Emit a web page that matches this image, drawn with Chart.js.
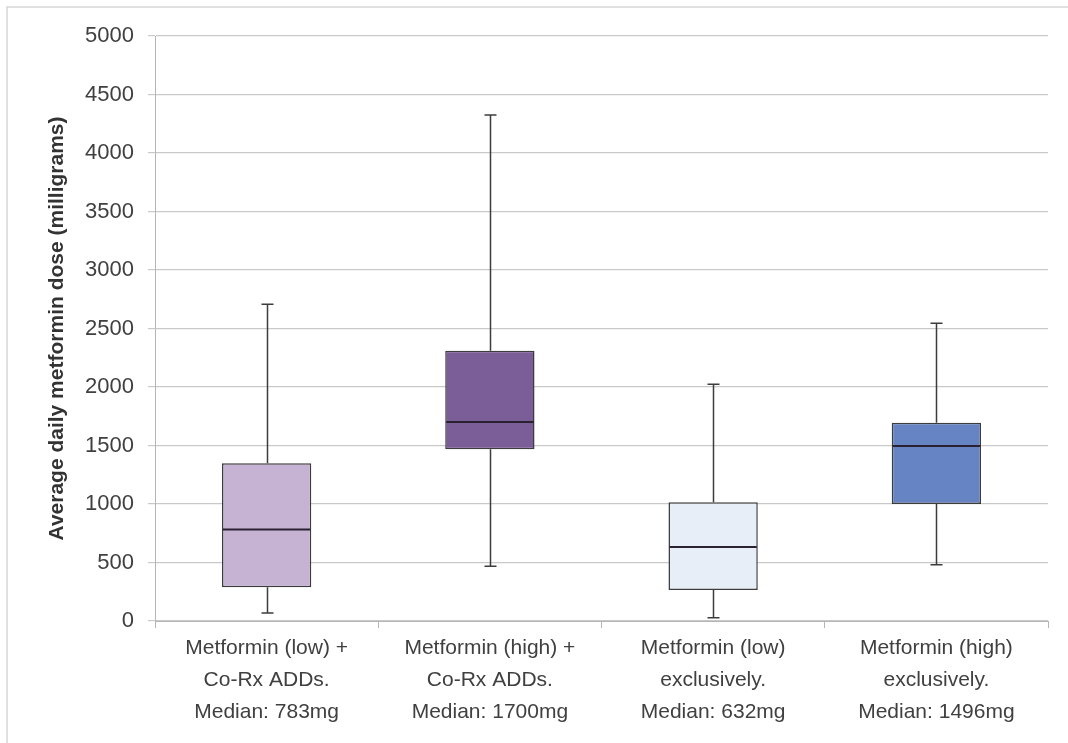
<!DOCTYPE html>
<html>
<head>
<meta charset="utf-8">
<title>Average daily metformin dose</title>
<script src="https://cdn.jsdelivr.net/npm/chart.js@4/dist/chart.umd.min.js"></script>
<style>
  html, body { margin: 0; padding: 0; background: #ffffff; }
  canvas { display: block; }
</style>
</head>
<body>
<canvas id="chart" width="1068" height="743"></canvas>
<script>
// Group labels (one line per array entry)
const categories = [
  ["Metformin (low) +", "Co-Rx ADDs.", "Median: 783mg"],
  ["Metformin (high) +", "Co-Rx ADDs.", "Median: 1700mg"],
  ["Metformin (low)", "exclusively.", "Median: 632mg"],
  ["Metformin (high)", "exclusively.", "Median: 1496mg"]
];

// Five-number summaries per group (mg)
const minValues    = [68, 467, 28, 481];
const q1Values     = [288, 1467, 265, 1000];
const medianValues = [783, 1700, 632, 1496];
const q3Values     = [1348, 2310, 1014, 1695];
const maxValues    = [2707, 4325, 2023, 2544];

// Y axis tick values
const yTickValues = [0, 500, 1000, 1500, 2000, 2500, 3000, 3500, 4000, 4500, 5000];

const boxColors = ["#c6b3d4", "#7b5d98", "#e8eef8", "#6684c3"];
const lineColor = "#3c3c3c";
const gridColor = "#c9c9c9";
const textColor = "#404040";
const fontFamily = "'Liberation Sans', Arial, sans-serif";

// Whiskers, caps and median lines drawn through the chart's own scales
const whiskerPlugin = {
  id: "whiskers",
  afterDatasetsDraw(chart) {
    const meta = chart.getDatasetMeta(0);
    const yScale = chart.scales.y;
    const ctx = chart.ctx;
    const cap = 6;
    ctx.save();
    ctx.lineCap = "butt";
    meta.data.forEach((bar, i) => {
      const x = Math.round(bar.x) + 0.5;
      const half = bar.width / 2;
      const yMin = yScale.getPixelForValue(minValues[i]);
      const yQ1 = yScale.getPixelForValue(q1Values[i]);
      const yMed = yScale.getPixelForValue(medianValues[i]);
      const yQ3 = yScale.getPixelForValue(q3Values[i]);
      const yMax = yScale.getPixelForValue(maxValues[i]);

      ctx.strokeStyle = lineColor;
      ctx.lineWidth = 1.5;
      ctx.beginPath();
      ctx.moveTo(x, yQ3); ctx.lineTo(x, yMax);
      ctx.moveTo(x - cap, yMax); ctx.lineTo(x + cap, yMax);
      ctx.moveTo(x, yQ1); ctx.lineTo(x, yMin);
      ctx.moveTo(x - cap, yMin); ctx.lineTo(x + cap, yMin);
      ctx.stroke();

      ctx.strokeStyle = "#2a2230";
      ctx.lineWidth = 2;
      ctx.beginPath();
      ctx.moveTo(bar.x - half + 1, yMed);
      ctx.lineTo(bar.x + half - 1, yMed);
      ctx.stroke();
    });
    ctx.restore();
  }
};

// White background and thin outer frame
const framePlugin = {
  id: "frame",
  beforeDraw(chart) {
    const ctx = chart.ctx;
    ctx.save();
    ctx.fillStyle = "#ffffff";
    ctx.fillRect(0, 0, chart.width, chart.height);
    ctx.strokeStyle = "#d6d6d6";
    ctx.lineWidth = 1.5;
    ctx.beginPath();
    ctx.moveTo(7, chart.height);
    ctx.lineTo(7, 7);
    ctx.lineTo(chart.width, 7);
    ctx.stroke();
    ctx.restore();
  }
};

new Chart(document.getElementById("chart"), {
  type: "bar",
  data: {
    labels: categories,
    datasets: [{
      label: "Interquartile range",
      data: q1Values.map((q1, i) => [q1, q3Values[i]]),
      backgroundColor: boxColors,
      borderColor: lineColor,
      borderWidth: 1.5,
      borderSkipped: false,
      barPercentage: 0.4,
      categoryPercentage: 1.0
    }]
  },
  options: {
    responsive: false,
    animation: false,
    layout: { padding: { top: 36, right: 20, left: 0, bottom: 0 } },
    plugins: {
      legend: { display: false },
      tooltip: { enabled: false }
    },
    scales: {
      x: {
        grid: {
          display: true,
          drawOnChartArea: false,
          drawTicks: true,
          tickLength: 7,
          color: "#b5b5b5",
          offset: true
        },
        border: { display: true, color: "#b5b5b5", width: 1 },
        ticks: {
          color: textColor,
          padding: 4,
          maxRotation: 0,
          autoSkip: false,
          font: { family: fontFamily, size: 21, lineHeight: 1.52 }
        },
        afterFit(scale) { scale.height = 122; }
      },
      y: {
        min: 0,
        max: 5000,
        afterBuildTicks(scale) {
          scale.ticks = yTickValues.map(v => ({ value: v }));
        },
        grid: {
          color: gridColor,
          lineWidth: 1.2,
          tickLength: 7,
          drawTicks: true
        },
        border: { display: true, color: "#b5b5b5", width: 1 },
        ticks: {
          color: textColor,
          padding: 14,
          font: { family: fontFamily, size: 22 },
          callback: (value) => String(value)
        },
        title: {
          display: true,
          text: "Average daily metformin dose (milligrams)",
          color: "#333333",
          padding: { top: 45, bottom: 0 },
          font: { family: fontFamily, size: 21, weight: "bold" }
        },
        afterFit(scale) { scale.width = 155; }
      }
    }
  },
  plugins: [framePlugin, whiskerPlugin]
});
</script>
</body>
</html>
